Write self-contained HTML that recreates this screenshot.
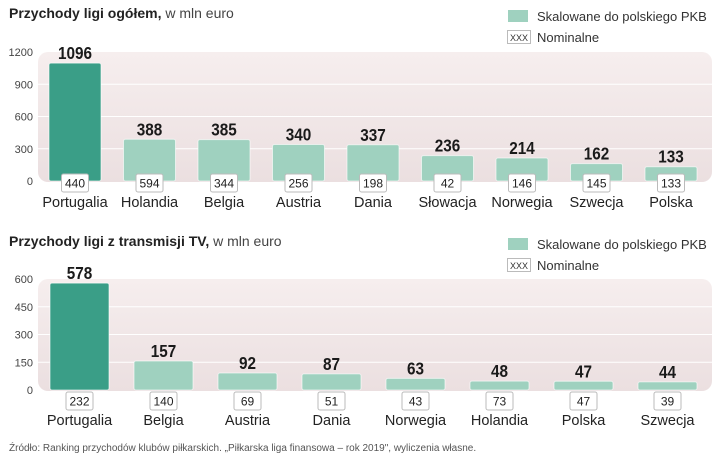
<!DOCTYPE html>
<html><head><meta charset="utf-8">
<style>
body{margin:0;width:720px;height:455px;background:#fff;font-family:"Liberation Sans",sans-serif;overflow:hidden;position:relative}
svg{position:absolute;left:0;top:0}
</style></head>
<body>
<svg width="720" height="455">
<defs>
<linearGradient id="bg" x1="0" y1="0" x2="0" y2="1">
<stop offset="0" stop-color="#f6eeee"/><stop offset="1" stop-color="#ebdfe0"/>
</linearGradient>
</defs>
<g id="root"></g>
</svg>
<script>
const cats1 = ["Portugalia","Holandia","Belgia","Austria","Dania","Słowacja","Norwegia","Szwecja","Polska"];
const scaled1 = [1096,388,385,340,337,236,214,162,133];
const nominal1 = [440,594,344,256,198,42,146,145,133];
const ticks1 = [0,300,600,900,1200];
const cats2 = ["Portugalia","Belgia","Austria","Dania","Norwegia","Holandia","Polska","Szwecja"];
const scaled2 = [578,157,92,87,63,48,47,44];
const nominal2 = [232,140,69,51,43,73,47,39];
const ticks2 = [0,150,300,450,600];

const NS="http://www.w3.org/2000/svg";
const root=document.getElementById('root');
function el(tag,attrs,parent){const e=document.createElementNS(NS,tag);for(const k in attrs)e.setAttribute(k,attrs[k]);(parent||root).appendChild(e);return e;}
function txt(s,attrs,parent){const e=el('text',attrs,parent);e.textContent=s;return e;}

function chart(cfg){
  const g=el('g',{});
  
  
  const y=v=>cfg.y0-(v/cfg.max)*(cfg.y0-cfg.yTop);
  const x=i=>cfg.x0+i*cfg.pitch;
  const t=txt('',{x:9,y:cfg.titleY,'font-size':14,fill:'#222'},g);
  
  
  const b=document.createElementNS(NS,'tspan');b.setAttribute('font-weight','bold');b.textContent=cfg.title;t.appendChild(b);
  const r=document.createElementNS(NS,'tspan');r.setAttribute('fill','#444');r.textContent=' w mln euro';t.appendChild(r);
  const bg=el('rect',{x:38,y:cfg.yTop,width:674,height:cfg.y0-cfg.yTop+1,rx:10,fill:'url(#bg)'},g);
  
  
  cfg.ticks.forEach(tv=>{
    if(tv>0&&tv<cfg.max){const l=el('line',{x1:38,x2:712,y1:y(tv),y2:y(tv),stroke:'#fff','stroke-width':1},g);
    
    }
    const tl=txt(String(tv),{x:33,y:y(tv)+4,'text-anchor':'end','font-size':11,fill:'#444'},g);
    
    
  });
  const lg=el('g',{},g);
  
  
  el('rect',{x:508,y:cfg.legY,width:20,height:12,fill:'#9fd1bf'},lg);
  txt('Skalowane do polskiego PKB',{x:537,y:cfg.legY+11,'font-size':13,fill:'#333'},lg);
  el('rect',{x:507.5,y:cfg.legY+20.5,width:23,height:13,fill:'#fff',stroke:'#bbb'},lg);
  txt('XXX',{x:519,y:cfg.legY+31,'font-size':9,fill:'#333','text-anchor':'middle'},lg);
  txt('Nominalne',{x:537,y:cfg.legY+32,'font-size':13,fill:'#333'},lg);
  cfg.cats.forEach((c,i)=>{
    const cx=x(i),v=cfg.scaled[i];
    const bar=el('rect',{x:cx-cfg.bw/2,y:y(v),width:cfg.bw,height:cfg.y0-y(v),rx:2,fill:i===0?'#3a9e87':'#9fd1bf',stroke:'#fff','stroke-opacity':0.6},g);
    
    
    const vl=txt(String(v),{x:0,y:0,'text-anchor':'middle','font-size':18,'font-weight':'bold',fill:'#1a1a1a',transform:`translate(${cx},${y(v)-4}) scale(0.85,1)`},g);
    
    
    const nb=el('rect',{x:cx-13.5,y:cfg.boxY,width:27,height:18,rx:2,fill:'#fff',stroke:'#bbb'},g);
    
    
    txt(String(cfg.nominal[i]),{x:cx,y:cfg.boxY+13.5,'text-anchor':'middle','font-size':12,fill:'#222'},g);
    const cl=txt(c,{x:cx,y:cfg.catY,'text-anchor':'middle','font-size':14.5,fill:'#222'},g);
    
    
  });
}
chart({name:'revenue-chart',title:'Przychody ligi ogółem,',titleY:18,cats:cats1,scaled:scaled1,nominal:nominal1,ticks:ticks1,max:1200,y0:181,yTop:52,x0:75,pitch:74.5,bw:52,boxY:174,catY:207,legY:10});
chart({name:'tv-revenue-chart',title:'Przychody ligi z transmisji TV,',titleY:246,cats:cats2,scaled:scaled2,nominal:nominal2,ticks:ticks2,max:600,y0:390,yTop:279,x0:79.5,pitch:84,bw:59,boxY:392,catY:425,legY:238});
const f=txt('Źródło: Ranking przychodów klubów piłkarskich. „Piłkarska liga finansowa – rok 2019", wyliczenia własne.',{x:9,y:451,'font-size':10,fill:'#555'});


</script>
</body></html>
